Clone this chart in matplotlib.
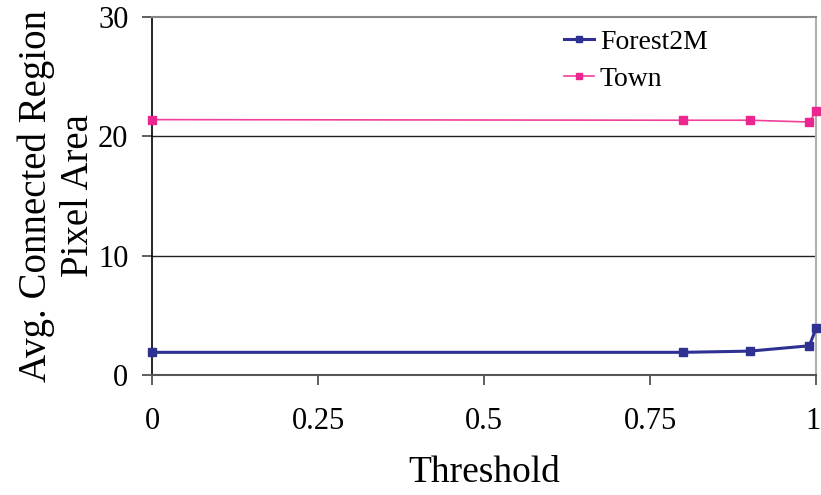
import matplotlib.pyplot as plt
import matplotlib.transforms as mtransforms
import numpy as np

plt.rcParams['font.family'] = ['Liberation Serif', 'DejaVu Serif']

# data
threshold = [0, 0.8, 0.9, 0.99, 1.0]
forest2m = [1.9, 1.9, 2.0, 2.45, 3.9]
town = [21.4, 21.35, 21.35, 21.2, 22.1]

xticks = [0, 0.25, 0.5, 0.75, 1]
xtick_labels = ['0', '0.25', '0.5', '0.75', '1']
yticks = [0, 10, 20, 30]

fig = plt.figure(figsize=(8.21, 4.95), dpi=100)
ax = fig.add_axes([152 / 821, 1 - 375 / 495, (816 - 152) / 821, (375 - 17) / 495])

ax.plot(threshold, forest2m, color='#2E3192', lw=2.2, marker='s', ms=6,
        label='Forest2M', clip_on=False, zorder=3)
ax.plot(threshold, town, color='#F0409A', lw=1.2, marker='s', ms=6,
        mfc='#EC268F', mec='#EC268F', label='Town', clip_on=False, zorder=3)

ax.set_xlim(0, 1)
ax.set_ylim(0, 30)
ax.set_xticks(xticks)
ax.set_xticklabels(xtick_labels)
ax.set_yticks(yticks)

for y in [10, 20]:
    ax.axhline(y, color='#222222', lw=1.0, zorder=1)

ax.spines['left'].set_color('black')
ax.spines['left'].set_linewidth(1.2)
ax.spines['bottom'].set_color('#555555')
ax.spines['bottom'].set_linewidth(1.5)
ax.spines['top'].set_color('#888888')
ax.spines['top'].set_linewidth(1.5)
ax.spines['right'].set_color('#b0b0b0')
ax.spines['right'].set_linewidth(1.5)

ax.tick_params(axis='both', labelsize=22, length=7, width=1.2, color='#444444')
ax.tick_params(axis='x', pad=16)
ax.tick_params(axis='y', pad=10)

# nudge the last x label so it stays inside the canvas
last = ax.get_xticklabels()[-1]
last.set_transform(last.get_transform() +
                   mtransforms.ScaledTranslation(-3 / 100, 0, fig.dpi_scale_trans))

ax.set_xlabel('Threshold', fontsize=27, labelpad=14)
ax.set_ylabel('Avg. Connected Region\nPixel Area', fontsize=28, labelpad=1,
              linespacing=1.15)

leg = ax.legend(loc='upper left', bbox_to_anchor=(0.62, 0.965), frameon=False,
                fontsize=20, handlelength=1.1, handletextpad=0.2,
                labelspacing=0.4, markerscale=0.8, borderpad=0,
                borderaxespad=0)

fig.savefig('out.png', dpi=100)
